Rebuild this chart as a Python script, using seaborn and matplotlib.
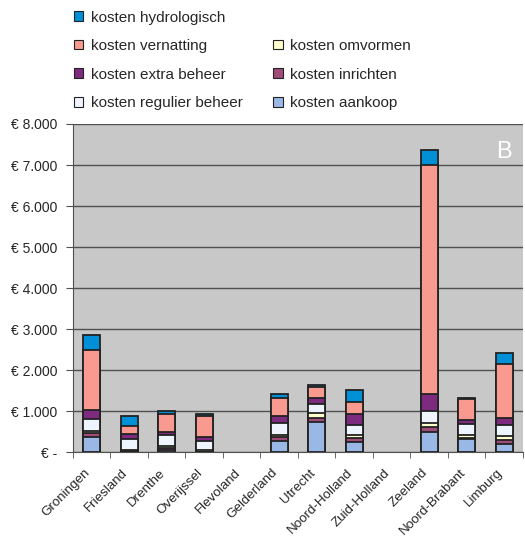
import numpy as np
import pandas as pd
import seaborn as sns
import matplotlib.pyplot as plt
from matplotlib.patches import Patch
from matplotlib.transforms import ScaledTranslation

provinces = ['Groningen', 'Friesland', 'Drenthe', 'Overijssel', 'Flevoland', 'Gelderland',
             'Utrecht', 'Noord-Holland', 'Zuid-Holland', 'Zeeland', 'Noord-Brabant', 'Limburg']

# components, bottom to top
aankoop      = [360, 10, 50, 0, 0, 280, 740, 250, 0, 495, 315, 210]
inrichten    = [115, 20, 60, 10, 0, 80, 105, 85, 0, 120, 40, 80]
omvormen     = [50, 30, 40, 40, 0, 55, 100, 80, 0, 85, 70, 105]
regulier     = [280, 260, 270, 230, 0, 305, 225, 260, 0, 305, 270, 260]
extra        = [220, 115, 80, 80, 0, 160, 140, 250, 0, 410, 100, 175]
vernatting   = [1470, 215, 435, 520, 0, 430, 270, 300, 0, 5585, 500, 1325]
hydrologisch = [350, 240, 65, 50, 0, 100, 70, 280, 0, 365, 30, 265]

series_names = ['kosten aankoop', 'kosten inrichten', 'kosten omvormen', 'kosten regulier beheer',
                'kosten extra beheer', 'kosten vernatting', 'kosten hydrologisch']
series_vals = [aankoop, inrichten, omvormen, regulier, extra, vernatting, hydrologisch]
colors = ['#99b8e6', '#a04c78', '#ffffcc', '#eef5ff', '#7e2a7e', '#f99a90', '#0090d8']

sns.set_style('white')
plt.rcParams['font.family'] = ['Liberation Sans', 'DejaVu Sans']

df = pd.DataFrame(dict(zip(series_names, series_vals)), index=provinces)
cum = df.cumsum(axis=1)
cum = cum.where(cum > 0)  # no bar at all for provinces without costs

fig = plt.figure(figsize=(5.25, 5.39), dpi=100)
ax = fig.add_axes([0.139, 0.161, 0.857, 0.609])
ax.set_facecolor('#c8c8c8')

# draw cumulative totals from the top layer down so each layer overlays the next
for name, col in reversed(list(zip(series_names, colors))):
    sns.barplot(x=provinces, y=cum[name].values, order=provinces, color=col, ax=ax, width=0.45,
                edgecolor='#222222', linewidth=1.3, saturation=1, zorder=3)

ax.set_ylim(0, 8000)
ax.set_xlim(-0.5, len(provinces) - 0.5)
ticks = np.arange(0, 8001, 1000)
ax.set_yticks(ticks)
ax.set_yticklabels(['€ -'] + ['€ {:,}'.format(t).replace(',', '.') for t in ticks[1:]], fontsize=10)
ax.yaxis.grid(True, color='#505050', linewidth=1, zorder=0)
ax.set_axisbelow(True)
for s in ['top', 'right']:
    ax.spines[s].set_visible(False)
for s in ['left', 'bottom']:
    ax.spines[s].set_color('#505050')
ax.tick_params(axis='y', length=5, color='#505050', direction='out', left=True, pad=6)
ax.set_xticks(np.arange(len(provinces)))
ax.set_xticklabels(provinces, rotation=45, ha='right', rotation_mode='anchor', fontsize=9.6)
ax.set_xticks(np.arange(len(provinces) + 1) - 0.5, minor=True)
ax.tick_params(axis='x', which='major', length=0, pad=10.5)
ax.tick_params(axis='x', which='minor', length=4, color='#505050', direction='out', bottom=True)
shift = ScaledTranslation(-0.075, 0, fig.dpi_scale_trans)
for lbl in ax.get_xticklabels():
    lbl.set_transform(lbl.get_transform() + shift)
ax.set_xlabel('')

ax.text(0.975, 0.915, 'B', transform=ax.transAxes, color='white', fontsize=17,
        ha='right', va='center')

handles = {n: Patch(facecolor=c, edgecolor='#222222', linewidth=0.8) for n, c in zip(series_names, colors)}
blank = Patch(facecolor='none', edgecolor='none')
order = ['kosten hydrologisch', 'kosten vernatting', 'kosten extra beheer', 'kosten regulier beheer',
         None, 'kosten omvormen', 'kosten inrichten', 'kosten aankoop']
fig.legend([handles[n] if n else blank for n in order], [n if n else '' for n in order],
           ncol=2, loc='upper left', bbox_to_anchor=(0.115, 1.006), frameon=False, fontsize=11,
           handlelength=0.6, handleheight=0.6, handletextpad=0.5, labelspacing=0.95,
           columnspacing=2.0)

plt.savefig('out.png', dpi=100)
